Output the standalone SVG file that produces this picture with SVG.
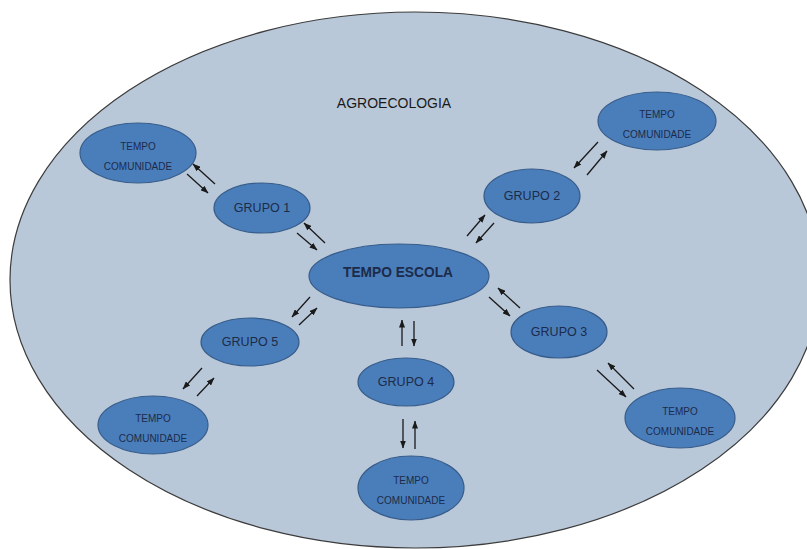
<svg xmlns="http://www.w3.org/2000/svg" width="807" height="549" viewBox="0 0 807 549">
<defs>
<style>
.bg{fill:#b9c8d9;stroke:#3c3c3c;stroke-width:1.2}
.node{fill:#4a7ebb;stroke:#385d8a;stroke-width:1.2}
.t{font-family:"Liberation Sans",Arial,sans-serif;fill:#1c2b4a;text-anchor:middle}
.g{font-size:12.5px}
.tc{font-size:10px}
.te{font-size:14px;font-weight:bold}
.title{font-family:"Liberation Sans",Arial,sans-serif;font-size:14px;fill:#1a1a1a;text-anchor:middle}
.a{stroke:#1a1a1a;stroke-width:1.3;fill:none;marker-end:url(#ah)}
</style>
<marker id="ah" viewBox="0 0 8 6" refX="7.5" refY="3" markerUnits="userSpaceOnUse" markerWidth="8" markerHeight="6" orient="auto">
<path d="M0,0 L8,3 L0,6 z" fill="#1a1a1a"/>
</marker>
</defs>
<g id="agroecologia">
<ellipse class="bg" cx="415" cy="280" rx="405" ry="268"/>
<text class="title" x="394" y="108">AGROECOLOGIA</text>
</g>
<g id="tc1"><ellipse class="node" cx="138" cy="153" rx="58" ry="30"/><text class="t tc" x="138" y="150">TEMPO</text><text class="t tc" x="138" y="170">COMUNIDADE</text></g>
<g id="grupo1"><ellipse class="node" cx="262" cy="208" rx="48" ry="25"/><text class="t g" x="262" y="212">GRUPO 1</text></g>
<g id="tc2"><ellipse class="node" cx="657" cy="121" rx="59" ry="29"/><text class="t tc" x="657" y="118">TEMPO</text><text class="t tc" x="657" y="138">COMUNIDADE</text></g>
<g id="grupo2"><ellipse class="node" cx="532" cy="196" rx="48" ry="27"/><text class="t g" x="532" y="200">GRUPO 2</text></g>
<g id="tempoescola"><ellipse class="node" cx="399" cy="276" rx="90" ry="32"/><text class="t te" x="398" y="277" textLength="110" lengthAdjust="spacingAndGlyphs">TEMPO ESCOLA</text></g>
<g id="grupo3"><ellipse class="node" cx="559" cy="332" rx="48" ry="26"/><text class="t g" x="559" y="336">GRUPO 3</text></g>
<g id="tc3"><ellipse class="node" cx="680" cy="418" rx="55" ry="30"/><text class="t tc" x="680" y="415">TEMPO</text><text class="t tc" x="680" y="435">COMUNIDADE</text></g>
<g id="grupo4"><ellipse class="node" cx="406" cy="382" rx="48" ry="24"/><text class="t g" x="406" y="386">GRUPO 4</text></g>
<g id="tc4"><ellipse class="node" cx="411" cy="488" rx="53" ry="32"/><text class="t tc" x="411" y="484">TEMPO</text><text class="t tc" x="411" y="504">COMUNIDADE</text></g>
<g id="grupo5"><ellipse class="node" cx="250" cy="342" rx="49" ry="24"/><text class="t g" x="250" y="346">GRUPO 5</text></g>
<g id="tc5"><ellipse class="node" cx="153" cy="425" rx="55" ry="29"/><text class="t tc" x="153" y="422">TEMPO</text><text class="t tc" x="153" y="442">COMUNIDADE</text></g>
<g id="connectors">
<line class="a" x1="215" y1="184" x2="193" y2="164"/>
<line class="a" x1="187" y1="174" x2="208" y2="193"/>
<line class="a" x1="325" y1="243" x2="304" y2="223"/>
<line class="a" x1="297" y1="233" x2="317" y2="250"/>
<line class="a" x1="598" y1="142" x2="574" y2="168"/>
<line class="a" x1="587" y1="175" x2="607" y2="151"/>
<line class="a" x1="467" y1="236" x2="485" y2="215"/>
<line class="a" x1="494" y1="223" x2="476" y2="243"/>
<line class="a" x1="310" y1="297" x2="292" y2="317"/>
<line class="a" x1="299" y1="325" x2="317" y2="308"/>
<line class="a" x1="202" y1="368" x2="183" y2="389"/>
<line class="a" x1="197" y1="396" x2="214" y2="378"/>
<line class="a" x1="402" y1="346" x2="402" y2="320"/>
<line class="a" x1="414" y1="321" x2="414" y2="346"/>
<line class="a" x1="520" y1="308" x2="498" y2="288"/>
<line class="a" x1="489" y1="297" x2="510" y2="316"/>
<line class="a" x1="634" y1="389" x2="608" y2="363"/>
<line class="a" x1="597" y1="370" x2="626" y2="397"/>
<line class="a" x1="403" y1="419" x2="403" y2="448"/>
<line class="a" x1="415" y1="449" x2="415" y2="421"/>
</g>
</svg>
